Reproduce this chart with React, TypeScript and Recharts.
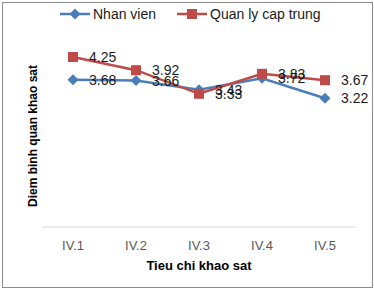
import React from 'react';
import { LineChart, Line, XAxis, YAxis, Legend, LabelList, Label } from 'recharts';

const categories = ['IV.1', 'IV.2', 'IV.3', 'IV.4', 'IV.5'];
const nhanVien = [3.68, 3.66, 3.43, 3.72, 3.22];
const quanLy = [4.25, 3.92, 3.33, 3.83, 3.67];

const BLUE = '#4A7EBB';
const RED = '#BE4B48';
const FONT = '"Liberation Sans", Arial, sans-serif';

const chartData = categories.map((c, i) => ({ name: c, nv: nhanVien[i], ql: quanLy[i] }));

const Diamond = (props: any) => {
  const { cx, cy } = props;
  if (cx == null || cy == null) return null;
  const r = 5.5;
  return <path d={`M${cx},${cy - r}L${cx + r},${cy}L${cx},${cy + r}L${cx - r},${cy}Z`} fill={BLUE} />;
};

const Square = (props: any) => {
  const { cx, cy } = props;
  if (cx == null || cy == null) return null;
  return <rect x={cx - 5} y={cy - 5} width={10} height={10} fill={RED} />;
};

const valueLabel = (props: any) => {
  const { x, y, value } = props;
  return (
    <text x={x + 16} y={y} dominantBaseline="central" fontSize={14} fill="#1a1a1a" fontFamily={FONT}>
      {value.toFixed(2)}
    </text>
  );
};

const LegendBox = () => (
  <div style={{ height: 26, display: 'flex', alignItems: 'center', paddingLeft: 60, fontFamily: FONT, fontSize: 14, color: '#1a1a1a' }}>
    <svg width={30} height={12} style={{ marginRight: 3 }}>
      <line x1={0} y1={6} x2={30} y2={6} stroke={BLUE} strokeWidth={2.5} />
      <path d="M15,0.5L20.5,6L15,11.5L9.5,6Z" fill={BLUE} />
    </svg>
    <span style={{ marginRight: 21 }}>Nhan vien</span>
    <svg width={30} height={12} style={{ marginRight: 3 }}>
      <line x1={0} y1={6} x2={30} y2={6} stroke={RED} strokeWidth={2.5} />
      <rect x={10} y={1} width={10} height={10} fill={RED} />
    </svg>
    <span>Quan ly cap trung</span>
  </div>
);

export default function App() {
  return (
    <div style={{ position: 'relative', width: 374, height: 289, background: '#fff' }}>
      <style>{`body{margin:0}`}</style>
      <div style={{ position: 'absolute', left: 2, top: 2, width: 371, height: 286, border: '1px solid #8c8c8c', boxSizing: 'border-box' }} />
      <LineChart width={374} height={289} data={chartData} margin={{ top: 1, right: 18, bottom: 19, left: 0 }}>
        <Legend verticalAlign="top" content={<LegendBox />} />
        <XAxis
          dataKey="name"
          padding={{ left: 31, right: 31 }}
          axisLine={{ stroke: '#d9d9d9', strokeWidth: 1 }}
          tickLine={false}
          tickMargin={8}
          height={43}
          tick={{ fill: '#595959', fontSize: 13, fontFamily: FONT }}
        >
          <Label value="Tieu chi khao sat" position="insideBottom" offset={0} fontSize={13} fontWeight="bold" fill="#000" fontFamily={FONT} />
        </XAxis>
        <YAxis domain={[0, 5]} width={42} axisLine={false} tickLine={false} tick={false}>
          <Label value="Diem binh quan khao sat" angle={-90} position="center" dx={12} dy={9} fontSize={12} fontWeight="bold" fill="#000" fontFamily={FONT} />
        </YAxis>
        <Line dataKey="nv" stroke={BLUE} strokeWidth={2.5} dot={<Diamond />} activeDot={false} isAnimationActive={false}>
          <LabelList dataKey="nv" content={valueLabel} />
        </Line>
        <Line dataKey="ql" stroke={RED} strokeWidth={2.5} dot={<Square />} activeDot={false} isAnimationActive={false}>
          <LabelList dataKey="ql" content={valueLabel} />
        </Line>
      </LineChart>
    </div>
  );
}
